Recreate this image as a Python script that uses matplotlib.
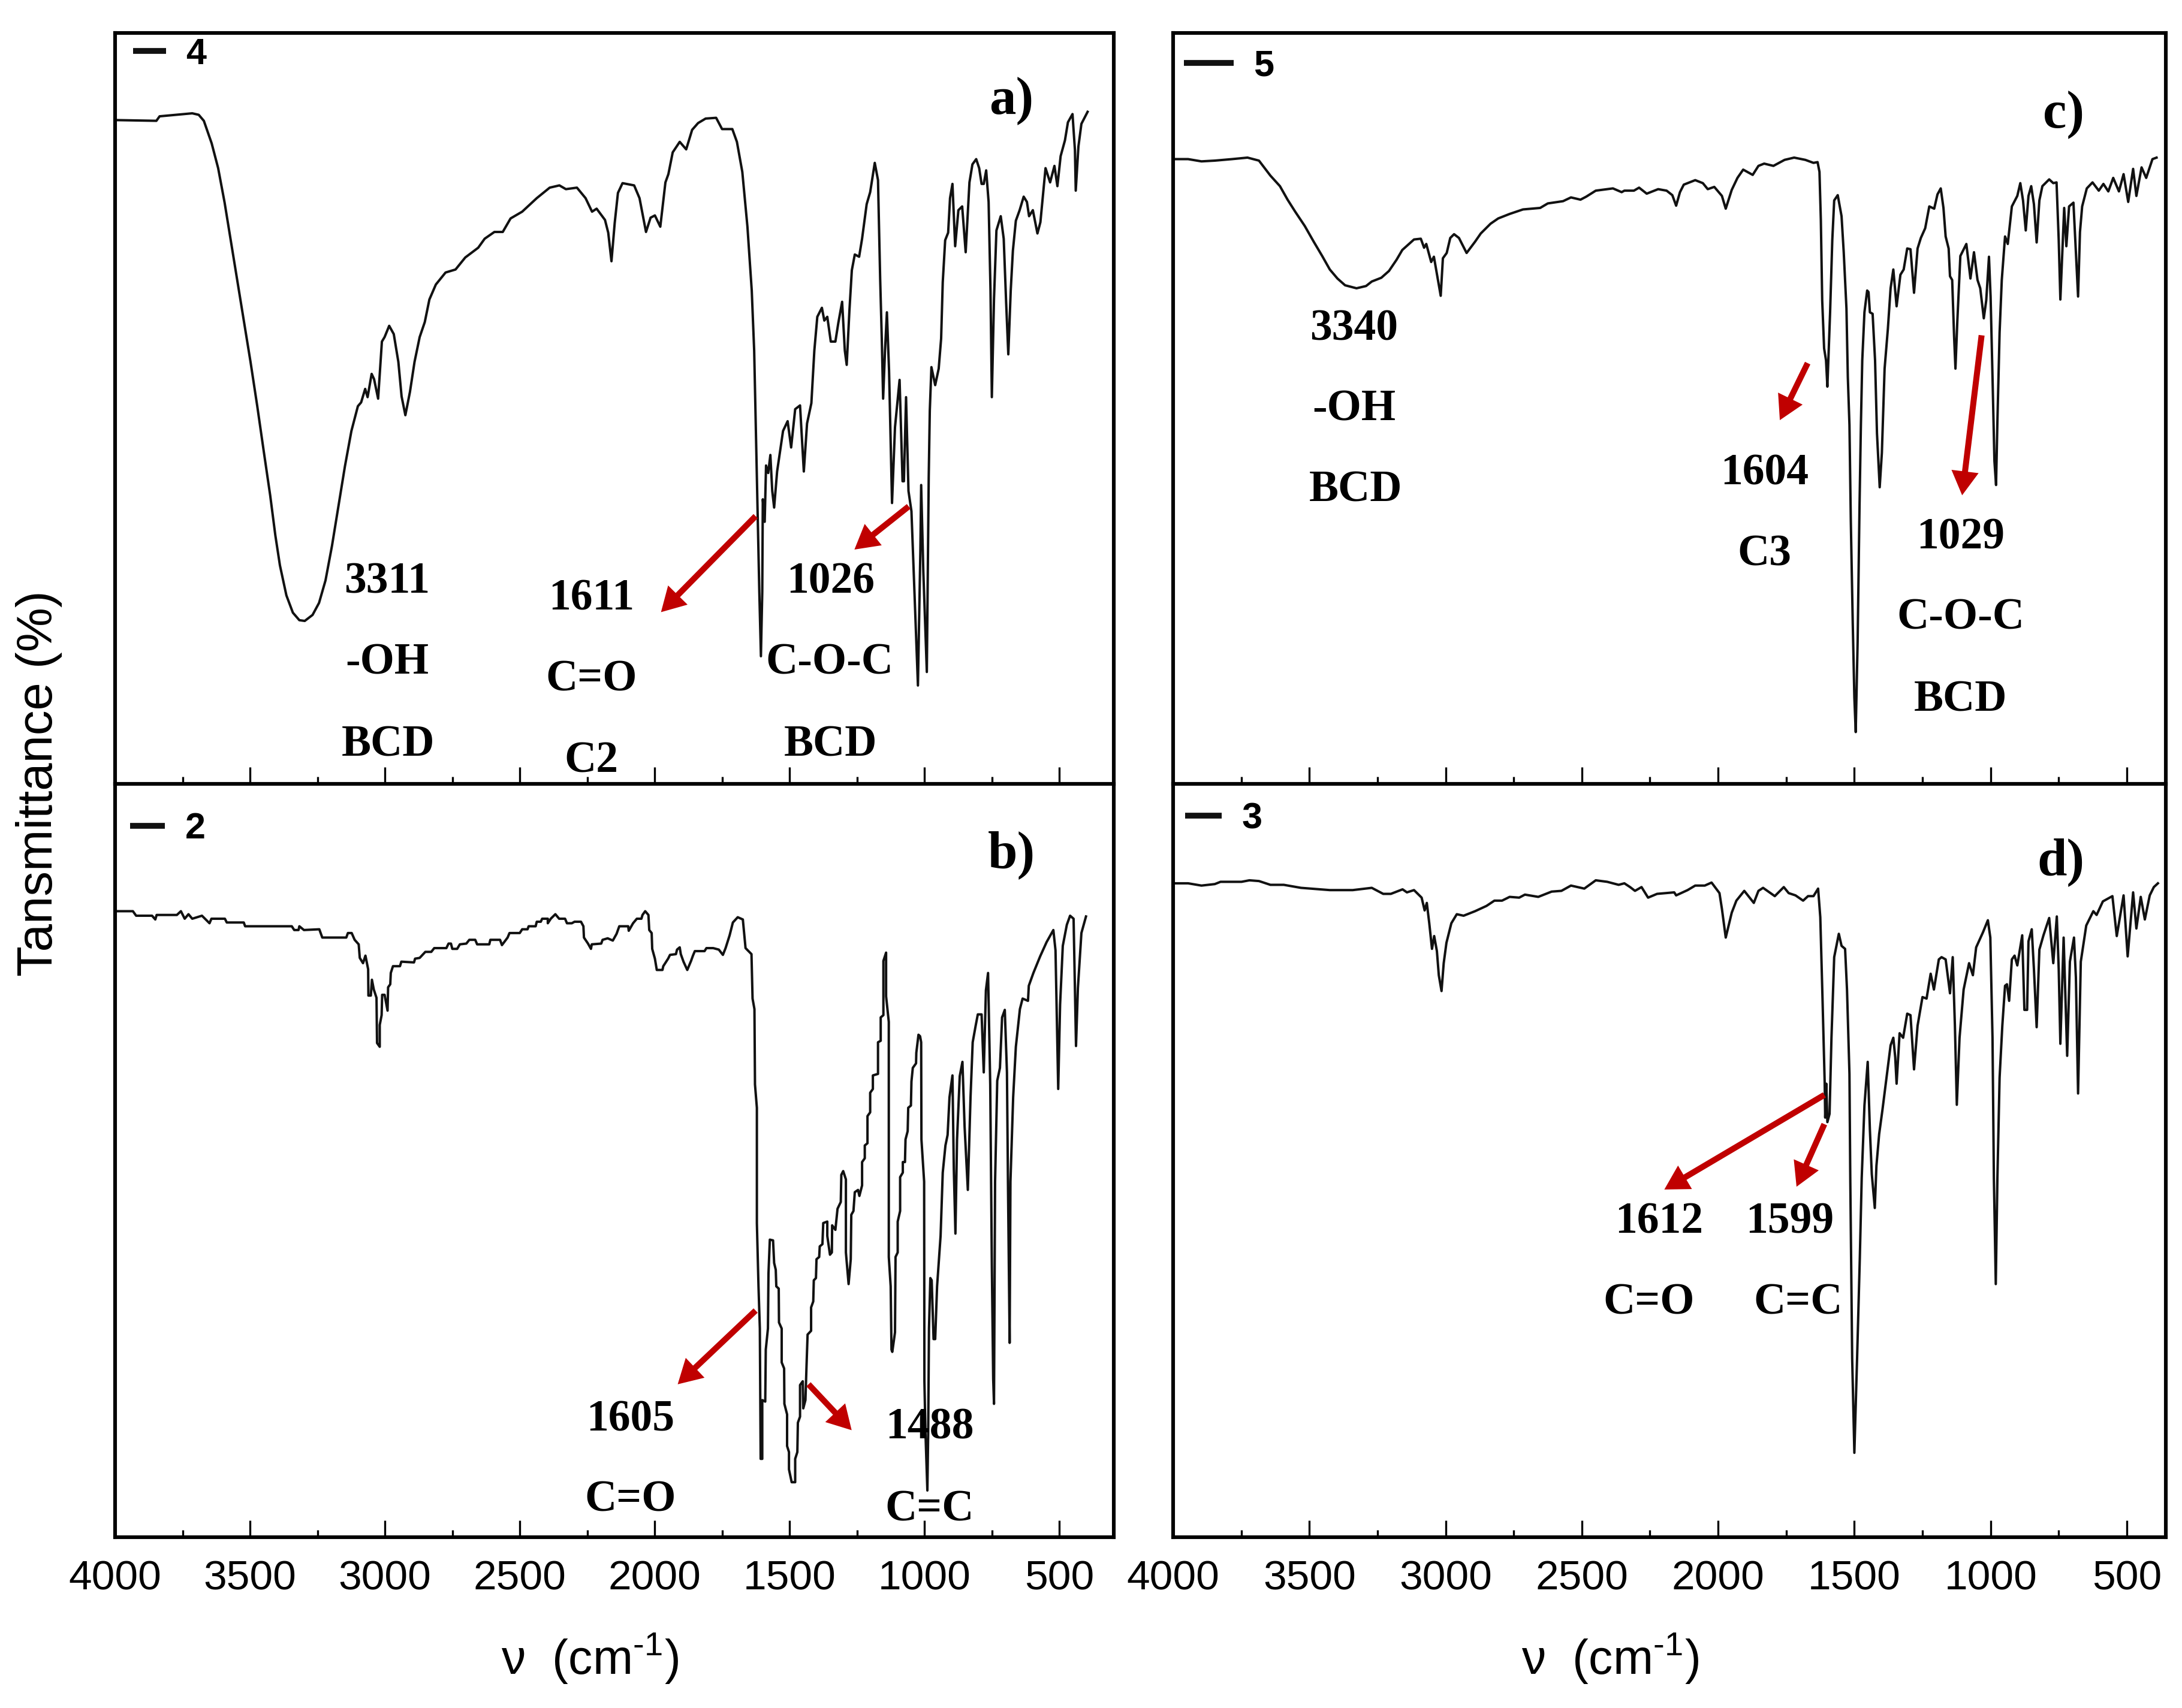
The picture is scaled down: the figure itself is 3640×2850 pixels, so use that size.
import matplotlib
matplotlib.use('Agg')
import matplotlib.pyplot as plt
from matplotlib.lines import Line2D

plt.rcParams['font.family'] = ['Liberation Sans', 'DejaVu Sans']
plt.rcParams['mathtext.fontset'] = 'custom'
plt.rcParams['mathtext.rm'] = 'Liberation Sans'

##Spectra, wavenumber (cm-1) and transmittance (% of the panel height)
wn_a = [4000,3847,3835,3714,3690,3671,3642,3618,3594,3570,3546,3522,3498,3473,3449,3425,3406,3389,3365,3341,
        3317,3297,3268,3244,3220,3196,3172,3148,3124,3100,3088,3073,3064,3049,3040,3025,3011,3001,2984,2967,
        2950,2938,2924,2907,2890,2871,2852,2835,2811,2775,2738,2702,2654,2630,2594,2563,2534,2491,2437,2389,
        2353,2329,2288,2256,2232,2215,2184,2172,2160,2148,2136,2119,2076,2056,2032,2015,1999,1979,1960,1949,
        1933,1907,1883,1861,1839,1811,1772,1750,1712,1695,1675,1656,1640,1631,1623,1618,1612,1606,1601,1599,
        1592,1587,1579,1571,1564,1557,1546,1524,1507,1494,1479,1461,1447,1435,1419,1408,1397,1380,1371,1360,
        1347,1330,1319,1305,1295,1288,1278,1269,1258,1242,1231,1214,1201,1184,1172,1164,1158,1153,1146,1139,
        1131,1126,1120,1109,1092,1081,1076,1068,1059,1048,1037,1024,1015,1012,1004,991,984,980,974,960,
        947,938,932,923,912,905,896,886,874,860,847,833,822,808,797,788,780,771,762,755,
        750,742,733,717,706,697,689,680,672,661,647,632,620,612,598,581,570,551,534,518,
        507,495,479,468,451,442,439,429,418,395]
t_a = [88.4,88.3,88.9,89.3,89.1,88.3,85.3,82,77.4,72.1,66.8,61.5,56.2,50.3,44.3,38.4,33.1,29.1,25.1,22.8,
       21.8,21.7,22.5,24.1,27.1,31.7,37,42.3,47,50.3,50.8,52.6,51.5,54.6,53.9,51.3,58.9,59.5,61,59.9,
       56.2,51.6,49.1,52.2,56.2,59.5,61.5,64.5,66.5,68.1,68.5,70.1,71.4,72.6,73.5,73.5,75.3,76.2,78,79.4,
       79.7,79.2,79.4,78,76.2,76.6,75.1,73.4,69.6,74.7,78.7,80,79.7,78,73.5,75.4,75.7,74.2,80.1,81.2,
       84.1,85.5,84.5,87.1,88,88.6,88.7,87.2,87.2,85.5,81.5,74.2,65.7,57.7,44.3,36.3,25.6,17,25.6,37.9,
       34.9,42.4,41.4,43.8,39,36.8,41.6,47,48.3,44.8,49.9,50.4,41.6,48,50.7,57.7,62.2,63.4,61.7,62.2,
       58.9,58.9,61.4,64.2,57.7,55.8,63,68.4,70.5,70.2,72.6,77.2,78.8,82.7,80.4,67.3,59.3,51.3,57.7,62.8,
       55,47,37.4,47.5,53.8,40.3,40.3,51.5,39,36.3,25.6,13.1,31,39.8,28.3,14.9,40.8,49.7,55.5,53.1,
       55.3,59.3,66.8,72.4,73.4,78,79.9,71.6,76.4,76.9,70.8,80.1,82.5,83.2,82,79.9,79.9,81.7,77.5,65.7,
       51.5,64.6,73.7,75.6,72.6,64.1,57.2,65.7,71,75,76.4,78.2,77.5,75.6,76.4,73.3,74.8,82,80.1,82.3,
       79.6,83.6,85.7,88.1,89.2,84.4,79,84.9,87.9,89.5]

wn_b = [3990,3934,3922,3863,3851,3846,3771,3756,3742,3728,3714,3678,3650,3643,3593,3586,3523,3518,3345,3336,
        3320,3317,3300,3243,3232,3143,3137,3123,3112,3097,3093,3081,3072,3062,3061,3052,3048,3041,3031,3029,
        3019,3019,3012,3010,3001,2990,2988,2980,2978,2970,2944,2939,2892,2888,2871,2850,2828,2817,2772,2764,
        2755,2750,2732,2722,2698,2687,2665,2658,2613,2609,2573,2566,2545,2538,2500,2491,2471,2467,2441,2437,
        2422,2417,2396,2396,2385,2368,2354,2332,2325,2307,2297,2273,2264,2262,2247,2236,2233,2198,2193,2174,
        2155,2141,2131,2098,2096,2080,2066,2049,2045,2035,2023,2020,2011,2009,1999,1992,1971,1968,1950,1943,
        1921,1917,1907,1903,1893,1879,1865,1858,1851,1815,1808,1783,1762,1747,1737,1722,1710,1692,1673,1663,
        1641,1637,1630,1628,1621,1621,1615,1610,1607,1601,1601,1590,1588,1580,1578,1573,1561,1557,1551,1549,
        1540,1539,1529,1529,1520,1519,1509,1509,1502,1502,1492,1479,1479,1471,1469,1461,1461,1451,1449,1441,
        1437,1433,1420,1420,1412,1410,1402,1400,1390,1388,1378,1375,1360,1360,1350,1343,1342,1330,1322,1310,
        1308,1301,1291,1291,1281,1273,1271,1263,1258,1246,1241,1231,1231,1221,1221,1211,1211,1201,1201,1191,
        1191,1172,1172,1162,1162,1152,1152,1142,1142,1132,1132,1125,1122,1119,1109,1107,1099,1099,1090,1090,
        1080,1080,1072,1070,1062,1060,1050,1048,1043,1031,1030,1022,1016,1012,1011,1001,1000,996,989,986,
        983,978,973,966,960,953,940,932,922,914,907,896,891,885,879,869,859,851,839,829,
        821,810,802,788,780,772,764,756,750,745,742,738,730,720,712,702,694,690,684,681,
        671,661,646,636,616,613,596,571,547,522,514,510,504,497,487,472,460,447,442,438,
        431,418,401]
t_b = [83.1,83.1,82.5,82.5,82,82.6,82.6,83.1,82.1,82.7,82.1,82.5,81.5,82.1,82.1,81.6,81.6,81.1,81.1,80.6,
       80.6,81.1,80.6,80.7,79.6,79.6,80.2,80.2,79.3,78.7,76.9,76.2,77.2,75.4,71.9,71.9,74,72.7,71.6,65.6,
       65.1,68,69.3,72,72,69.9,73,73.4,74.9,75.8,75.8,76.4,76.3,76.8,76.9,77.7,77.7,78.2,78.2,78.8,
       78.8,78.1,78.1,78.7,78.8,79.3,79.3,78.7,78.7,79.3,79.3,78.6,79.6,80.2,80.2,80.7,80.7,81.1,81.1,81.7,
       81.7,82.1,82.1,81.5,82.1,82.7,82.1,82.1,81.5,81.5,81.7,81.7,81.1,79.6,78.8,78.1,78.7,78.8,79.3,79.5,
       79.2,80.1,81.1,81.1,80.5,81.5,82.1,82.1,82.6,83.1,82.6,80.6,80.2,78.1,76.8,75.3,75.3,75.8,76.8,77.3,
       77.4,78,78.3,77.4,76.4,75.3,76.5,77.2,77.8,77.8,78.2,78.2,78,77.3,78.2,79.9,81.6,82.3,82,78.2,
       77.4,71.5,70.1,60.1,57,41.7,33.3,27.7,10.4,10.4,18.2,18,24.9,27.7,35,39.5,39.4,36.4,35.5,33.3,
       33,28.5,27.7,23.2,22.4,17.7,16.3,12.1,11.3,9,7.3,7.3,10.4,11.3,15.2,16,20.2,20.7,17.1,18.2,
       22.7,26.9,27.4,30.5,31.3,34.1,34.4,36.9,37.2,38.6,38.9,41.7,41.9,40,37.5,37.8,41.4,40.8,43.6,44.5,
       48.1,48.6,47.5,37.8,33.6,36.9,42.8,43.3,45.8,46.1,45.3,46.7,49.8,50.3,52,52.3,55.9,56.4,59,59.5,
       61.3,61.5,65.7,65.9,69,69.3,76.5,77.6,71.8,68.4,37.2,33.3,24.9,24.6,27.2,37.2,37.8,41.9,43.3,47.8,
       48.4,49.8,49.8,52.8,53.9,57,57.3,60.5,62.3,62.9,64.3,66.7,66.5,65.7,52.8,47.2,20.7,13.8,6.2,13.8,
       27.7,34.4,34.1,26.3,26.3,33.3,40,48.4,52,53.4,58.4,61.3,48.9,40.3,52.8,61.2,63.1,54.5,46.1,58.4,
       65.7,67.9,69.4,69.4,61.7,72.6,74.9,60.1,36.1,21,17.7,47.2,60.6,62.3,69,70,61.7,46.1,25.8,47.2,
       58.4,65.1,70.1,71.5,71.2,73.2,74.9,77.1,79,80.6,77.9,70.7,59.5,70.7,78.5,81.3,82.5,82.1,72.9,65.2,
       72.9,80.2,82.4]

wn_c = [3994,3945,3896,3847,3784,3727,3685,3664,3643,3608,3580,3552,3517,3484,3453,3425,3397,3369,3327,3292,
        3271,3236,3208,3180,3159,3116,3091,3079,3071,3053,3043,3032,3018,3010,2996,2983,2969,2951,2923,2892,
        2871,2835,2807,2765,2716,2653,2625,2569,2540,2505,2484,2449,2386,2354,2344,2309,2290,2262,2220,2189,
        2168,2154,2140,2126,2084,2056,2038,2014,1986,1972,1950,1929,1908,1873,1852,1831,1797,1756,1721,1680,
        1650,1635,1628,1623,1618,1611,1604,1599,1589,1581,1574,1561,1547,1539,1529,1524,1518,1513,1506,1500,
        1495,1488,1481,1476,1471,1463,1453,1448,1443,1433,1424,1417,1407,1399,1389,1377,1367,1357,1351,1345,
        1331,1319,1306,1294,1281,1268,1256,1240,1225,1207,1195,1183,1173,1165,1154,1149,1141,1134,1129,1122,
        1111,1089,1074,1061,1048,1038,1025,1016,1006,1000,993,986,980,975,967,959,947,937,922,902,
        891,881,871,861,851,841,831,821,810,785,770,758,750,744,738,730,722,712,696,687,
        679,672,664,647,626,603,586,568,550,529,512,495,477,465,446,429,406,391]
t_c = [83.2,83.2,82.9,83,83.2,83.4,83,82,81,79.6,77.8,76.2,74.3,72.2,70.3,68.5,67.3,66.4,66,66.3,
       66.9,67.4,68.3,69.8,71.1,72.5,72.6,71.4,71.9,69.5,70.2,67.9,65,70,70.7,72.7,73.2,72.7,70.7,72.2,
       73.3,74.6,75.3,75.9,76.5,76.7,77.3,77.6,78.1,77.8,78.2,79,79.3,78.8,79,79,79.4,78.6,79.2,79,
       78.4,77,78.8,79.8,80.4,80,79.2,79.5,78.3,76.6,79.1,80.7,81.8,81.1,82.3,82.6,82.3,83.1,83.4,83.1,
       82.7,82.8,81.5,75.1,64.4,58,56.4,52.9,62.8,72.4,77.7,78.4,75.6,70.8,63.3,54.2,47.8,35,21.6,11.5,
       6.9,18.9,37.1,47.8,56.4,62.8,65.7,65.5,62.8,62.6,56.4,46.7,39.5,44.1,55.3,60.6,66,68.5,66,63.6,
       67.8,68.5,71.3,71.2,65.4,71.3,72.7,74,76.9,76.6,78.5,79.3,76.7,72.9,71.3,67.6,67.1,59.6,55.3,61.7,
       70.3,71.9,67.3,70.8,67.1,66,62,64.4,70.2,64.9,54.2,43,39.8,48.3,60.1,67.1,72.9,71.9,76.9,78.3,
       80,77.7,73.7,78.3,79.6,77.2,72.1,77.7,79.6,80.5,80,80.1,72.4,64.5,69.7,76.7,71.6,76.9,77.4,70.8,
       64.9,73.5,76.9,79.3,80.1,79,79.9,78.9,80.7,78.9,81.2,77.5,81.9,78.3,82.1,80.7,83.2,83.4]

wn_d = [3994,3945,3896,3847,3826,3749,3720,3685,3643,3594,3531,3425,3341,3271,3229,3201,3158,3142,3116,3088,
        3077,3069,3060,3050,3042,3032,3025,3015,3007,2997,2979,2959,2934,2892,2850,2821,2793,2765,2730,2709,
        2660,2611,2575,2540,2491,2449,2407,2365,2344,2323,2305,2281,2257,2224,2161,2154,2112,2084,2049,2024,
        1995,1986,1972,1950,1933,1904,1869,1852,1835,1792,1759,1741,1716,1688,1670,1650,1633,1625,1617,1609,
        1607,1603,1599,1591,1584,1574,1564,1557,1547,1534,1527,1518,1515,1508,1500,1490,1480,1473,1463,1451,
        1443,1436,1425,1419,1409,1397,1382,1367,1357,1350,1345,1334,1321,1306,1294,1281,1268,1250,1235,1220,
        1208,1190,1180,1165,1149,1139,1131,1124,1114,1099,1079,1065,1053,1028,1010,1001,993,988,981,975,
        967,957,947,940,932,922,912,902,884,876,866,861,849,841,831,821,806,785,770,757,
        750,744,732,719,709,694,687,679,669,649,623,611,588,553,537,512,497,477,465,449,
        434,416,401,386]
t_d = [86.8,86.8,86.5,86.7,87,87,87.2,87.1,86.6,86.6,86.2,85.9,85.9,86.2,85.4,85.4,86,85.6,85.9,84.9,
       83.2,84.2,81.5,78.1,79.8,77.8,74.6,72.5,76.2,78.9,81.5,82.7,82.5,83.1,83.8,84.5,84.5,85,84.9,85.3,
       85,85.7,85.8,86.5,86.1,87.2,87,86.6,86.8,86.3,85.8,86.3,84.9,85.4,85.6,85.2,85.9,86.5,86.5,86.9,
       85.5,83.4,79.6,82.9,84.5,85.8,84.2,85.8,86.2,85.1,86.3,85.5,85.2,84.5,85.1,85.1,86.1,82.3,71.7,60.5,
       55.7,60.2,55.1,56.2,66.3,77,78.8,80.1,78.5,78.1,72.7,61.5,47.7,23.7,11.2,23.7,37,47.7,57.3,63.1,
       54.1,48.2,43.7,49.3,53.5,56.7,61,65.3,66.3,63.7,60.2,66.9,66.3,69.5,69.3,62.1,67.9,71.7,71.5,74.8,
       72.7,76.7,77,76.7,72.2,77,67.9,57.4,66.3,72.7,76.2,74.6,78.3,80.3,81.9,79.6,66.3,47.7,33.6,47.7,
       61,67.9,73.2,73.4,71.2,76.7,77.2,75.9,79.9,70,70,79.1,80.7,75.4,67.7,78,79.9,82.2,76.2,82.4,
       75.4,65.5,79.6,63.9,76.4,79.6,74.3,58.9,76.4,81.2,83.1,82.6,84.4,85.1,79.8,85.2,77.1,85.6,80.8,85,
       82,85.2,86.3,86.8]

major_ticks = [4000, 3500, 3000, 2500, 2000, 1500, 1000, 500]
minor_ticks = [3750, 3250, 2750, 2250, 1750, 1250, 750]

sample_a, sample_b, sample_c, sample_d = '4', '2', '5', '3'
panel_a, panel_b, panel_c, panel_d = 'a)', 'b)', 'c)', 'd)'

RED = '#C00000'
INK = '#111111'
W, H = 3640.0, 2850.0
S = 3640.0 / 1568.0


def figXY(x, y):
    '''reference position (1568 wide view) to figure fraction'''
    return x * S / W, 1 - y * S / H


def makeAxes(fig, left, top, right, bottom, xlim, labels=True):
    ax = fig.add_axes([left / W, 1 - bottom / H, (right - left) / W, (bottom - top) / H])
    ax.set_xlim(xlim)
    ax.set_ylim(0, 100)
    ax.set_yticks([])
    ax.set_xticks(major_ticks)
    ax.set_xticks(minor_ticks, minor=True)
    ax.tick_params(axis='x', which='major', direction='in', length=20, width=2.4, pad=27,
                   labelsize=50, labelbottom=labels)
    ax.tick_params(axis='x', which='minor', direction='in', length=9, width=2.4)
    for spine in ax.spines.values():
        spine.set_linewidth(4.4)
    return ax


def sampleLegend(ax, label, x, y, handle):
    '''short thick line and the sample number, x and y in axes fraction'''
    proxy = Line2D([0], [0], color=INK, lw=7, solid_capstyle='butt')
    ax.legend([proxy], [label], loc='center left', bbox_to_anchor=(x, y), frameon=False,
              handlelength=handle, handletextpad=0.55, borderpad=0, borderaxespad=0,
              prop={'family': 'Liberation Sans', 'weight': 'bold', 'size': 44})


def bold(fig, x, y, text, size=53):
    fx, fy = figXY(x, y + 2.5)
    fig.text(fx, fy, text, family='Liberation Serif', weight='bold', size=size,
             ha='center', va='center', color='black')


def redArrow(ax, start, end):
    ax.annotate('', xy=figXY(*end), xytext=figXY(*start), xycoords='figure fraction',
                textcoords='figure fraction', annotation_clip=False, zorder=5,
                arrowprops=dict(arrowstyle='simple,head_length=0.72,head_width=0.82,tail_width=0.18',
                                mutation_scale=40, color=RED, lw=0, shrinkA=0, shrinkB=0))


fig = plt.figure(figsize=(36.4, 28.5), dpi=100, facecolor='white')

L_XLIM = (4000, 298)
R_XLIM = (4000, 357)
ax_a = makeAxes(fig, 192, 55, 1858, 1308, L_XLIM, labels=False)
ax_b = makeAxes(fig, 192, 1308, 1858, 2565, L_XLIM)
ax_c = makeAxes(fig, 1957, 55, 3613, 1308, R_XLIM, labels=False)
ax_d = makeAxes(fig, 1957, 1308, 3613, 2565, R_XLIM)

for ax, wn, t in [(ax_a, wn_a, t_a), (ax_b, wn_b, t_b), (ax_c, wn_c, t_c), (ax_d, wn_d, t_d)]:
    ax.plot(wn, t, color=INK, lw=2.9, solid_joinstyle='round')

sampleLegend(ax_a, sample_a, 0.018, 0.971, 0.9)
sampleLegend(ax_b, sample_b, 0.015, 0.940, 0.95)
sampleLegend(ax_c, sample_c, 0.011, 0.955, 1.35)
sampleLegend(ax_d, sample_d, 0.012, 0.953, 1.0)

for x, y, s in [(727, 70, panel_a), (727, 612, panel_b), (1483, 80, panel_c), (1481, 617, panel_d)]:
    bold(fig, x, y, s, size=64)

#Peak labels
for x, y, s in [(278, 416, '3311'), (278, 474, '-OH'), (279, 533, 'BCD'),
                (425, 428, '1611'), (425, 486, 'C=O'), (425, 545, 'C2'),
                (597, 416, '1026'), (596, 474, 'C-O-C'), (597, 533, 'BCD'),
                (453, 1018, '1605'), (453, 1076, 'C=O'),
                (668, 1024, '1488'), (668, 1083, 'C=C'),
                (973, 234, '3340'), (973, 292, '-OH'), (974, 350, 'BCD'),
                (1268, 338, '1604'), (1268, 396, 'C3'),
                (1409, 384, '1029'), (1409, 442, 'C-O-C'), (1409, 501, 'BCD'),
                (1192, 876, '1612'), (1185, 934, 'C=O'),
                (1286, 876, '1599'), (1292, 934, 'C=C')]:
    bold(fig, x, y, s)

redArrow(ax_a, (543, 371), (475, 440))
redArrow(ax_a, (653, 364), (614, 395))
redArrow(ax_b, (543, 942), (487, 995))
redArrow(ax_b, (581, 995), (612, 1028))
redArrow(ax_c, (1299, 261), (1279, 302))
redArrow(ax_c, (1424, 241), (1410, 356))
redArrow(ax_d, (1311, 787), (1196, 855))
redArrow(ax_d, (1311, 808), (1291, 853))

fx, fy = figXY(28, 563)
fig.text(fx, fy, 'Tansmittance (%)', rotation=90, size=60, ha='center', va='center')
for x in [424, 1157]:
    fx, fy = figXY(x, 1192)
    fig.text(fx, fy, u'\u03bd  (cm$^{\\text{-1}}$)', size=58, ha='center', va='center')

plt.savefig('out.png', dpi=100)
